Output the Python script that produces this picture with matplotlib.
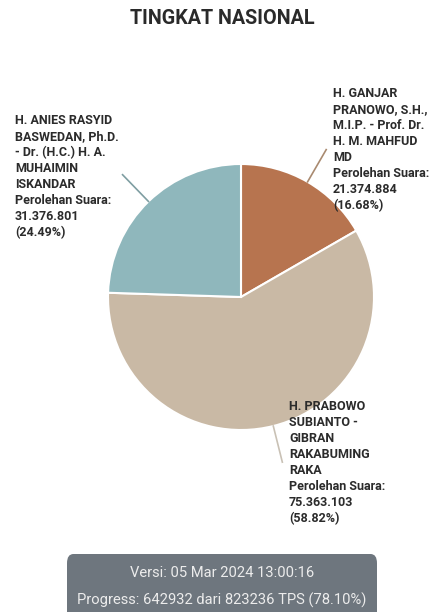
import matplotlib.pyplot as plt
import numpy as np
from matplotlib.patches import FancyBboxPatch

plt.rcParams['font.family'] = ['Roboto', 'DejaVu Sans']

# slices in the order drawn (clockwise from 12 o'clock)
paslon = ['H. GANJAR\nPRANOWO, S.H.,\nM.I.P. - Prof. Dr.\nH. M. MAHFUD\nMD',
          'H. PRABOWO\nSUBIANTO -\nGIBRAN\nRAKABUMING\nRAKA',
          'H. ANIES RASYID\nBASWEDAN, Ph.D.\n- Dr. (H.C.) H. A.\nMUHAIMIN\nISKANDAR']
suara = [21374884, 75363103, 31376801]
suara_txt = ['21.374.884', '75.363.103', '31.376.801']
persen = ['16.68%', '58.82%', '24.49%']
warna = ['#b7744f', '#c9b9a5', '#8fb7bc']
garis = ['#a98a70', '#c9c1b5', '#7f9ea2']

W, H = 429, 612
fig = plt.figure(figsize=(W / 100, H / 100), dpi=100)

cx, cy, r = 241, 297, 133
ax = fig.add_axes([(cx - r) / W, (H - cy - r) / H, 2 * r / W, 2 * r / H])
wedges, _ = ax.pie(suara, colors=warna, startangle=90, counterclock=False,
                   wedgeprops=dict(edgecolor='white', linewidth=1.5))
ax.set_xlim(-1, 1)
ax.set_ylim(-1, 1)
ax.axis('off')

# connector lines, radial from the slice middle
for w, c in zip(wedges, garis):
    mid = np.deg2rad((w.theta1 + w.theta2) / 2)
    ax.plot([np.cos(mid), 1.28 * np.cos(mid)], [np.sin(mid), 1.28 * np.sin(mid)],
            color=c, lw=1.2, clip_on=False)

# label blocks (pixel positions of top-left)
pos = [(333, 87), (289, 400), (15, 114)]
for (x, y), nama, s, p in zip(pos, paslon, suara_txt, persen):
    fig.text(x / W, 1 - y / H, f'{nama}\nPerolehan Suara:\n{s}\n({p})',
             ha='left', va='top', fontsize=9, fontweight='bold',
             color='#2b2b2b', linespacing=1.3)

fig.text(222 / W, 1 - 18 / H, 'TINGKAT NASIONAL', ha='center', va='center',
         fontsize=14.2, fontweight='bold', color='#2a2a2a')

# version box
box = FancyBboxPatch((67 / W, -0.05), 310 / W, (612 - 554) / H + 0.05,
                     boxstyle='round,pad=0,rounding_size=0.015',
                     transform=fig.transFigure, facecolor='#6e767e',
                     edgecolor='none')
fig.patches.append(box)
fig.text(222 / W, 1 - 573 / H, 'Versi: 05 Mar 2024 13:00:16', ha='center',
         va='center', fontsize=10.6, color='#ececec')
fig.text(222 / W, 1 - 600 / H, 'Progress: 642932 dari 823236 TPS (78.10%)',
         ha='center', va='center', fontsize=10.6, color='#ececec')

fig.savefig('out.png', dpi=100, facecolor='white')
